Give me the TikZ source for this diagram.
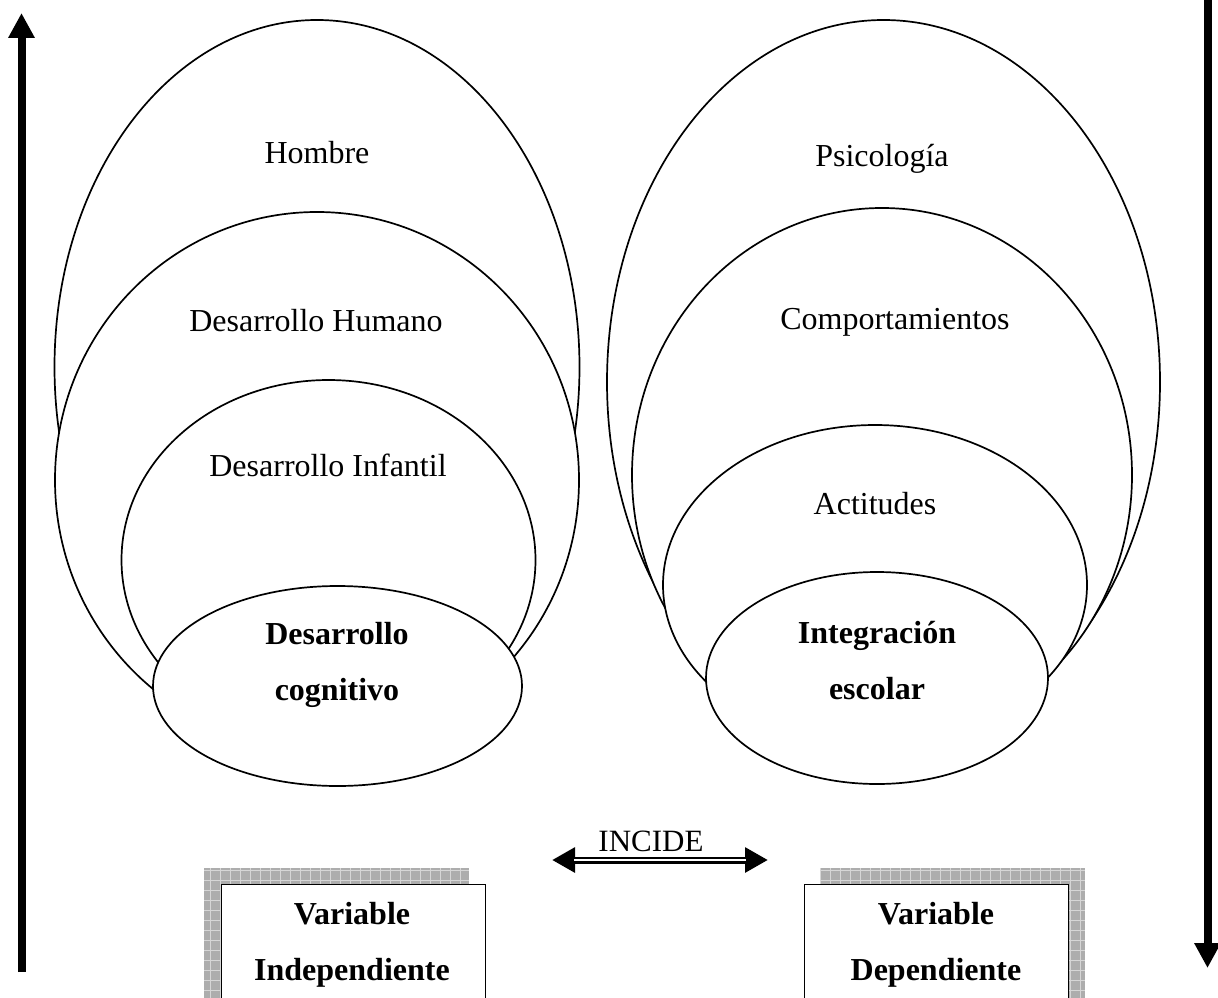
\documentclass[tikz,border=0pt]{standalone}
\usepackage{fontspec}
\setmainfont{Liberation Serif}
\usetikzlibrary{shapes.geometric,arrows.meta}
\begin{document}
\begin{tikzpicture}[x=1pt,y=-1pt,
  ell/.style={draw, ellipse, fill=white, line width=1.7pt, inner sep=0pt},
  lbl/.style={font=\fontsize{32}{38}\selectfont, inner sep=0pt, anchor=base},
  blbl/.style={font=\fontsize{32}{38}\selectfont\bfseries, inner sep=0pt, anchor=base},
  bigarrow/.style={line width=8pt, -{Triangle[width=25pt,length=25pt]}},
  shadowfill/.style={fill=black!32},
  shadowgrid/.style={draw=black!16, line width=0.8pt},
  varbox/.style={draw, fill=white, line width=1.1pt, minimum width=264pt, minimum height=150pt, inner sep=0pt},
]
\useasboundingbox (0,0) rectangle (1218,998);
\clip (0,0) rectangle (1218,998);

% vertical arrows
\coordinate (la0) at (21.5,972);
\coordinate (la1) at (21.5,13);
\draw[bigarrow] (la0) -- (la1);
\coordinate (ra0) at (1207.5,-5);
\coordinate (ra1) at (1207.5,968);
\draw[bigarrow] (ra0) -- (ra1);

% left group
\node[ell, minimum width=525pt, minimum height=694pt] (hombre) at (317,367) {};
\node[ell, minimum width=524pt, minimum height=536pt] (humano) at (317,480) {};
\node[ell, minimum width=414pt, minimum height=360pt] (infantil) at (328.5,560) {};
\node[ell, minimum width=369pt, minimum height=200pt] (cognitivo) at (337.5,686) {};

\node[lbl] (t1) at (317,163) {Hombre};
\node[lbl] (t2) at (316,331) {Desarrollo Humano};
\node[lbl] (t3) at (328,476) {Desarrollo Infantil};
\node[blbl] (t4) at (337,644) {Desarrollo};
\node[blbl] (t5) at (337,700) {cognitivo};

% right group
\node[ell, minimum width=553pt, minimum height=724pt] (psico) at (883.5,382) {};
\node[ell, minimum width=500pt, minimum height=534pt] (compo) at (882,475) {};
\node[ell, minimum width=424pt, minimum height=320pt] (actit) at (875,585) {};
\node[ell, minimum width=342pt, minimum height=212pt] (integ) at (877,678) {};

\node[lbl] (s1) at (882,166) {Psicología};
\node[lbl] (s2) at (895,329) {Comportamientos};
\node[lbl] (s3) at (875,514) {Actitudes};
\node[blbl] (s4) at (877,643) {Integración};
\node[blbl] (s5) at (877,699) {escolar};

% INCIDE double arrow
\coordinate (ia) at (552,860);
\coordinate (ib) at (768,860);
\draw[line width=7pt, {Triangle[width=24pt,length=23pt]}-{Triangle[width=24pt,length=23pt]}] (ia) -- (ib);
\draw[white, line width=2.4pt, shorten <=22pt, shorten >=22pt] (ia) -- (ib);
\node[lbl, font=\fontsize{31}{36}\selectfont] (inc) at (651,851) {INCIDE};

% variable boxes with shadow
\fill[shadowfill] (204,868) rectangle (469,1010);
\draw[shadowgrid, step=10pt] (204,868) grid (469,1010);
\node[varbox, anchor=north west] (vb1) at (221,884) {};
\node[blbl] (v1) at (352,924) {Variable};
\node[blbl] (v2) at (352,980) {Independiente};

\fill[shadowfill] (820,868) rectangle (1085,1010);
\draw[shadowgrid, step=10pt] (820,868) grid (1085,1010);
\node[varbox, anchor=north west] (vb2) at (804,884) {};
\node[blbl] (w1) at (936,924) {Variable};
\node[blbl] (w2) at (936,980) {Dependiente};
\end{tikzpicture}
\end{document}
